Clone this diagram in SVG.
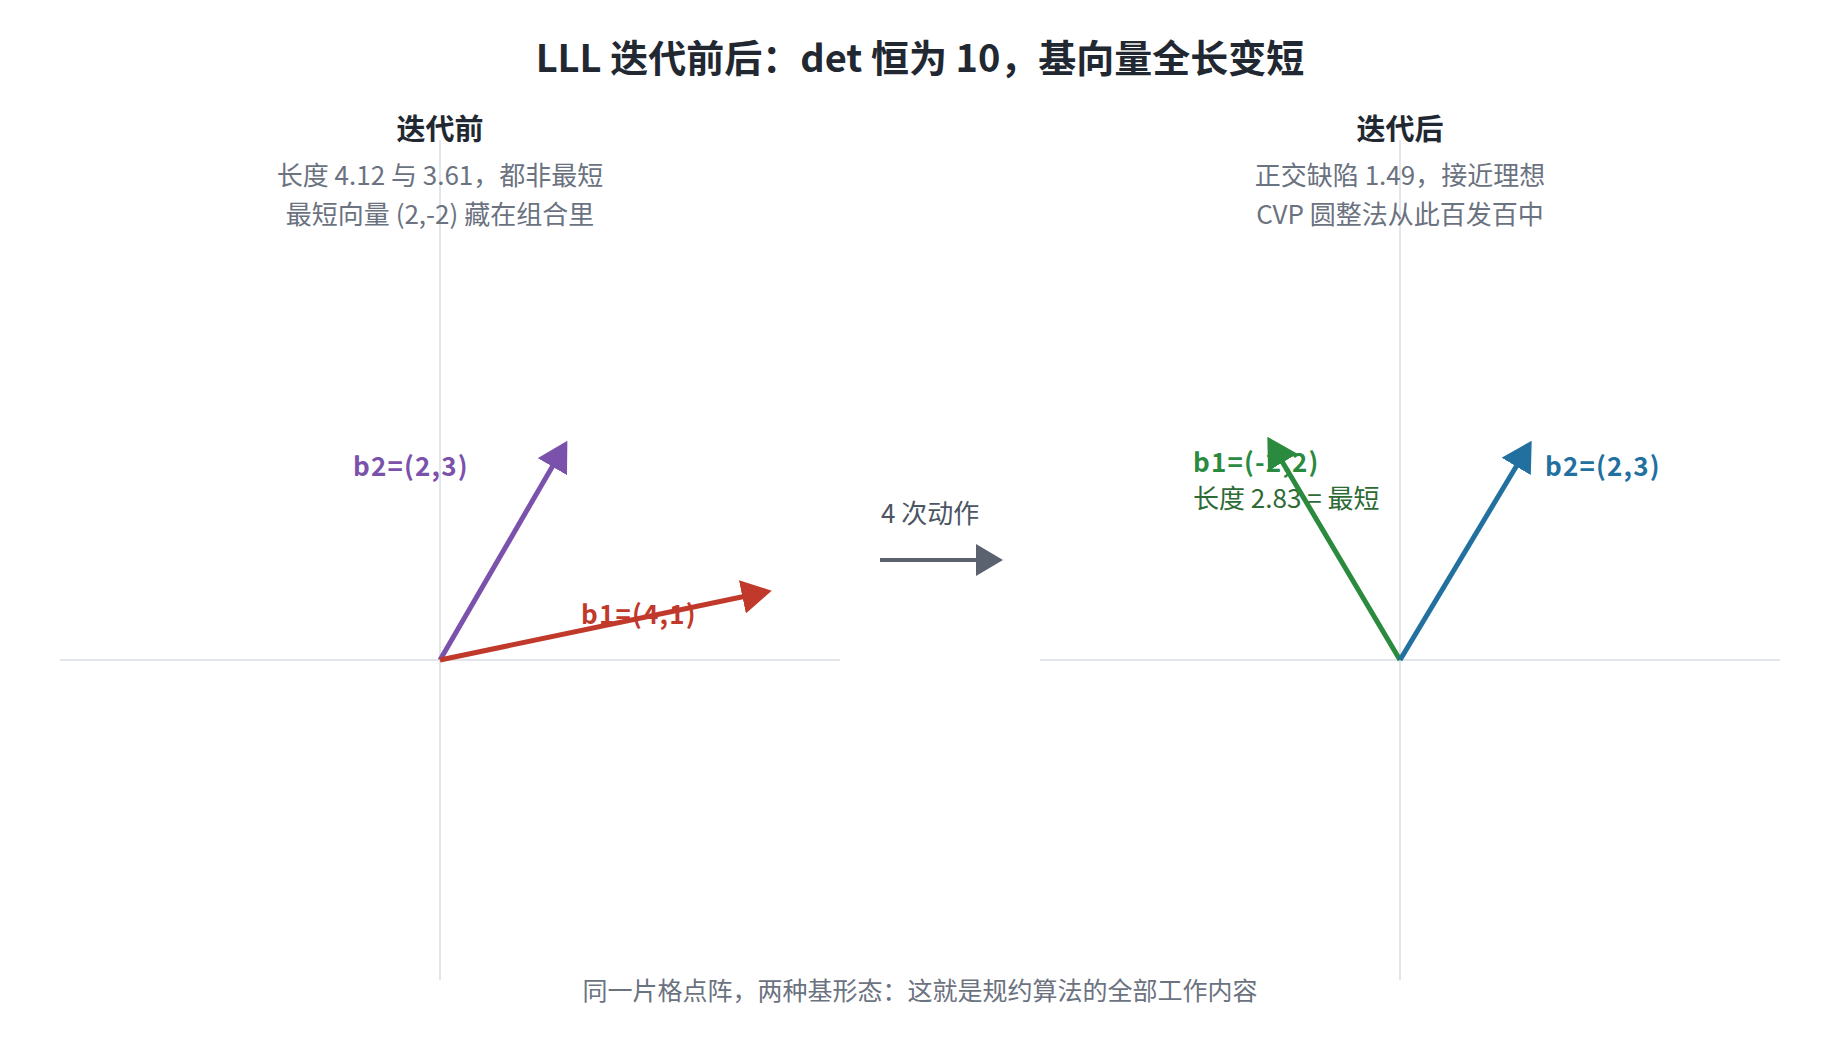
<svg xmlns="http://www.w3.org/2000/svg" width="1840" height="1040" viewBox="0 0 1840 1040">
<style>
text{font-family:"Noto Sans CJK SC","Noto Sans",sans-serif}
.title{font-size:38px;font-weight:700;fill:#222831;text-anchor:middle}
.head{font-size:29px;font-weight:700;fill:#222831;text-anchor:middle}
.sub{font-size:26px;fill:#6b7280;text-anchor:middle}
.foot{font-size:25px;fill:#6b7280;text-anchor:middle}
.lbl{font-size:26px;font-weight:700;letter-spacing:1.2px}
.axis{stroke:#e2e5ea;stroke-width:2;fill:none}
.vec{stroke-width:5;fill:none}
</style>
<defs>
<marker id="mPurple" viewBox="0 0 30 34" markerWidth="30" markerHeight="34" markerUnits="userSpaceOnUse" refX="4" refY="17" orient="auto"><path d="M0,0 L30,17 L0,34 z" fill="#7b52ab"/></marker>
<marker id="mRed" viewBox="0 0 30 34" markerWidth="30" markerHeight="34" markerUnits="userSpaceOnUse" refX="4" refY="17" orient="auto"><path d="M0,0 L30,17 L0,34 z" fill="#c0392b"/></marker>
<marker id="mGreen" viewBox="0 0 30 34" markerWidth="30" markerHeight="34" markerUnits="userSpaceOnUse" refX="4" refY="17" orient="auto"><path d="M0,0 L30,17 L0,34 z" fill="#2a8a3e"/></marker>
<marker id="mBlue" viewBox="0 0 30 34" markerWidth="30" markerHeight="34" markerUnits="userSpaceOnUse" refX="4" refY="17" orient="auto"><path d="M0,0 L30,17 L0,34 z" fill="#21709f"/></marker>
<marker id="mGray" viewBox="0 0 27 32" markerWidth="27" markerHeight="32" markerUnits="userSpaceOnUse" refX="3" refY="16" orient="auto"><path d="M0,0 L27,16 L0,32 z" fill="#5a6270"/></marker>
</defs>
<rect width="1840" height="1040" fill="#ffffff"/>
<g id="axes">
<line class="axis" x1="60" y1="660" x2="840" y2="660"/>
<line class="axis" x1="440" y1="140" x2="440" y2="980"/>
<line class="axis" x1="1040" y1="660" x2="1780" y2="660"/>
<line class="axis" x1="1400" y1="140" x2="1400" y2="980"/>
</g>
<g id="title"><text class="title" x="920" y="72">LLL 迭代前后：det 恒为 10，基向量全长变短</text></g>
<g id="panel-before">
<text class="head" x="440" y="140">迭代前</text>
<text class="sub" x="440" y="185">长度 4.12 与 3.61，都非最短</text>
<text class="sub" x="440" y="224">最短向量 (2,-2) 藏在组合里</text>
</g>
<g id="panel-after">
<text class="head" x="1400" y="140">迭代后</text>
<text class="sub" x="1400" y="185">正交缺陷 1.49，接近理想</text>
<text class="sub" x="1400" y="224">CVP 圆整法从此百发百中</text>
</g>
<g id="label-b2-before"><text class="lbl" x="353" y="476" fill="#7b52ab">b2=(2,3)</text></g>
<g id="label-b1-before"><text class="lbl" x="581" y="624" fill="#c0392b">b1=(4,1)</text></g>
<g id="label-b1-after">
<text class="lbl" x="1193" y="472" fill="#2a8a3e">b1=(-2,2)</text>
<text x="1193" y="508" font-size="26" fill="#2d6a34">长度 2.83 = 最短</text>
</g>
<g id="label-b2-after"><text class="lbl" x="1545" y="476" fill="#21709f">b2=(2,3)</text></g>
<g id="label-step"><text x="881" y="523" font-size="26" fill="#4b5563">4 次动作</text></g>
<g id="connectors">
<line class="vec" x1="440" y1="660" x2="554.3" y2="463.2" stroke="#7b52ab" marker-end="url(#mPurple)"/>
<line class="vec" x1="440" y1="660" x2="746.3" y2="596" stroke="#c0392b" marker-end="url(#mRed)"/>
<line class="vec" x1="1400" y1="660" x2="1280.6" y2="459" stroke="#2a8a3e" marker-end="url(#mGreen)"/>
<line class="vec" x1="1400" y1="660" x2="1518.3" y2="463" stroke="#21709f" marker-end="url(#mBlue)"/>
<line x1="880" y1="560" x2="979" y2="560" stroke="#5a6270" stroke-width="4" marker-end="url(#mGray)"/>
</g>
<g id="footer"><text class="foot" x="920" y="1000">同一片格点阵，两种基形态：这就是规约算法的全部工作内容</text></g>
</svg>
